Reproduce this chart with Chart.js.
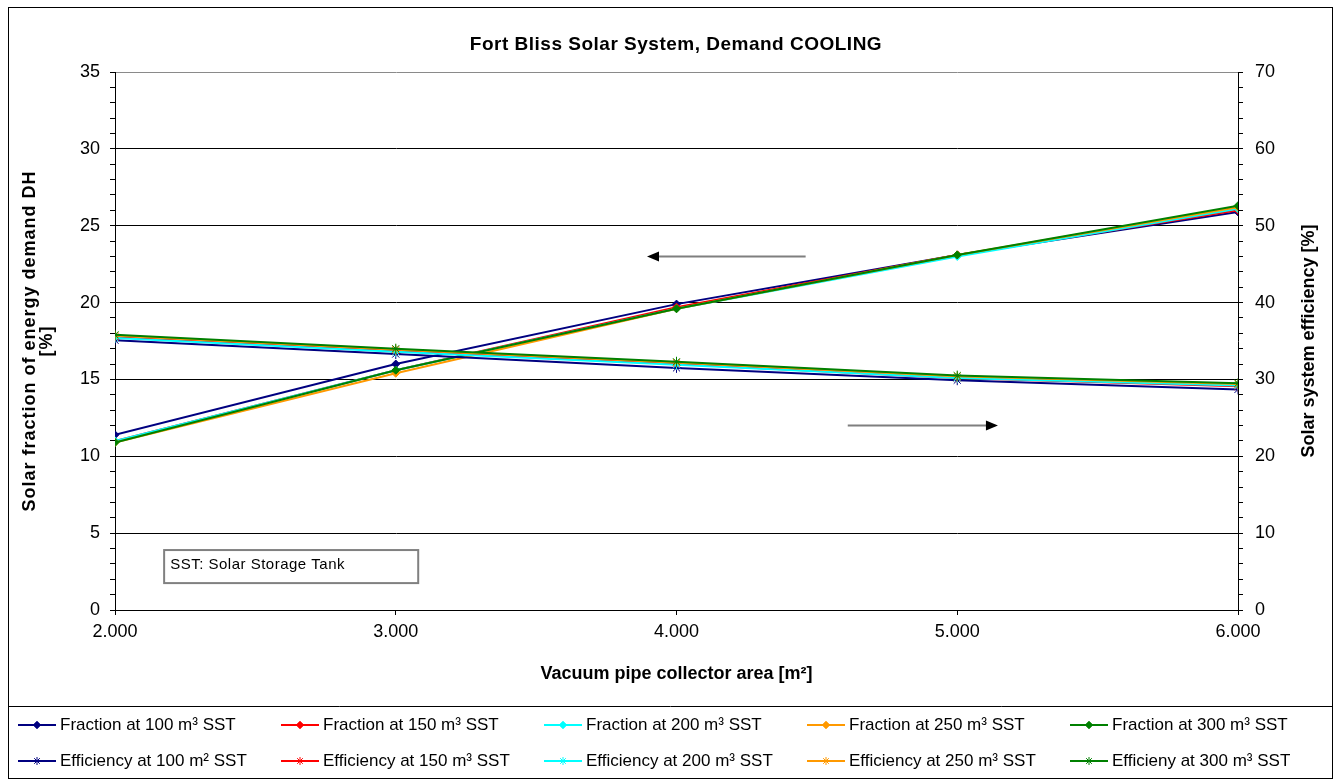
<!DOCTYPE html>
<html><head><meta charset="utf-8">
<script src="https://cdn.jsdelivr.net/npm/chart.js@4.4.1/dist/chart.umd.min.js"></script>
<style>html,body{margin:0;padding:0;background:#fff;}#wrap{position:relative;width:1336px;height:779px;}</style>
</head><body><div id="wrap"><canvas id="c" width="1336" height="779"></canvas></div>
<script>
// ---- data ----
const collectorAreas = [2000, 3000, 4000, 5000, 6000];
const fraction100 = [11.4, 16.0, 19.9, 23.1, 25.9];
const fraction150 = [11.0, 15.6, 19.7, 23.1, 26.0];
const fraction200 = [11.0, 15.6, 19.6, 23.0, 26.1];
const fraction250 = [10.9, 15.4, 19.6, 23.1, 26.2];
const fraction300 = [10.9, 15.6, 19.6, 23.1, 26.3];
const efficiency100 = [35.1, 33.3, 31.5, 29.9, 28.7];
const efficiency150 = [35.5, 33.7, 32.0, 30.2, 29.1];
const efficiency200 = [35.4, 33.6, 31.9, 30.2, 29.2];
const efficiency250 = [35.7, 33.9, 32.2, 30.4, 29.4];
const efficiency300 = [35.8, 34.0, 32.3, 30.5, 29.5];
const fractionLabels = ['Fraction at 100 m³ SST','Fraction at 150 m³ SST','Fraction at 200 m³ SST','Fraction at 250 m³ SST','Fraction at 300 m³ SST'];
const efficiencyLabels = ['Efficiency at 100 m² SST','Efficiency at 150 m³ SST','Efficiency at 200 m³ SST','Efficiency at 250 m³ SST','Efficieny at 300 m³ SST'];
const chartTitle = 'Fort Bliss Solar System, Demand COOLING';
const leftAxisTitle = ['Solar fraction of energy demand DH', '[%]'];
const rightAxisTitle = 'Solar system efficiency [%]';
const xAxisTitle = 'Vacuum pipe collector area [m²]';
const noteText = 'SST: Solar Storage Tank';

// ---- styling ----
const colors = ['#000080', '#FF0000', '#00FFFF', '#FF9900', '#008000'];
const FONT = '"Liberation Sans", Arial, sans-serif';

const fractionSeries = [fraction100, fraction150, fraction200, fraction250, fraction300];
const efficiencySeries = [efficiency100, efficiency150, efficiency200, efficiency250, efficiency300];

const toPoints = arr => arr.map((v, i) => ({x: collectorAreas[i], y: v}));
const datasets = [];
fractionSeries.forEach((s, i) => datasets.push({
  label: fractionLabels[i], data: toPoints(s), yAxisID: 'y',
  borderColor: colors[i], backgroundColor: colors[i], borderWidth: 2,
  pointStyle: 'rectRot', pointRadius: 4, pointBorderWidth: 1,
  pointBackgroundColor: colors[i], pointBorderColor: colors[i],
  order: 9 - i, tension: 0
}));
efficiencySeries.forEach((s, i) => datasets.push({
  label: efficiencyLabels[i], data: toPoints(s), yAxisID: 'y2',
  borderColor: colors[i], backgroundColor: colors[i], borderWidth: 2,
  pointStyle: 'star', pointRadius: 5, pointBorderWidth: 1,
  pointBackgroundColor: colors[i], pointBorderColor: colors[i],
  order: 4 - i, tension: 0
}));

function drawArrow(ctx, x1, y, x2) {
  const dir = Math.sign(x2 - x1);
  ctx.save();
  ctx.strokeStyle = '#7f7f7f'; ctx.lineWidth = 2;
  ctx.beginPath(); ctx.moveTo(x1, y); ctx.lineTo(x2 - dir * 10, y); ctx.stroke();
  ctx.fillStyle = '#000';
  ctx.beginPath(); ctx.moveTo(x2, y); ctx.lineTo(x2 - dir * 12, y - 5); ctx.lineTo(x2 - dir * 12, y + 5); ctx.closePath(); ctx.fill();
  ctx.restore();
}

const decor = {
  id: 'decor',
  afterDraw(chart) {
    const {ctx, scales} = chart;
    const xs = scales.x, yl = scales.y;
    const midY = (chart.chartArea.top + chart.chartArea.bottom) / 2;
    ctx.save();
    // outer frames
    ctx.strokeStyle = '#000'; ctx.lineWidth = 1;
    ctx.strokeRect(8.5, 7.5, 1324, 771);
    ctx.beginPath(); ctx.moveTo(8, 706.5); ctx.lineTo(1333, 706.5); ctx.stroke();
    // title
    ctx.fillStyle = '#000';
    ctx.font = 'bold 19px ' + FONT; ctx.textAlign = 'center'; ctx.textBaseline = 'middle';
    ctx.letterSpacing = '0.5px';
    ctx.fillText(chartTitle, 676, 45);
    ctx.letterSpacing = '0px';
    // x title
    ctx.font = 'bold 18px ' + FONT;
    ctx.fillText(xAxisTitle, (chart.chartArea.left + chart.chartArea.right) / 2, 674);
    // right title
    ctx.save();
    ctx.translate(1309, midY);
    ctx.rotate(-Math.PI / 2);
    ctx.fillText(rightAxisTitle, 0, 0);
    ctx.restore();
    // left title
    ctx.save();
    ctx.letterSpacing = '1px';
    ctx.translate(30, midY);
    ctx.rotate(-Math.PI / 2);
    ctx.fillText(leftAxisTitle[0], 0, 0);
    ctx.fillText(leftAxisTitle[1], 0, 17);
    ctx.restore();
    ctx.letterSpacing = '0px';
    // arrows (anchored in data units)
    drawArrow(ctx, xs.getPixelForValue(4460), yl.getPixelForValue(23.0), xs.getPixelForValue(3895));
    drawArrow(ctx, xs.getPixelForValue(4610), yl.getPixelForValue(12.0), xs.getPixelForValue(5145));
    // note box
    const bx = xs.getPixelForValue(2175), by = yl.getPixelForValue(3.9);
    const bx2 = xs.getPixelForValue(3080), by2 = yl.getPixelForValue(1.75);
    ctx.strokeStyle = '#808080'; ctx.lineWidth = 2;
    ctx.strokeRect(bx, by, bx2 - bx, by2 - by);
    ctx.fillStyle = '#000'; ctx.font = '15px ' + FONT; ctx.textAlign = 'left';
    ctx.letterSpacing = '0.5px';
    ctx.fillText(noteText, bx + 6, by + 15);
    ctx.letterSpacing = '0px';
    // legend
    ctx.font = '17px ' + FONT; ctx.textBaseline = 'middle';
    const colX = [18, 281, 544, 807, 1070];
    const rowY = [725, 761];
    chart.data.datasets.forEach((ds, i) => {
      const row = i < 5 ? 0 : 1, col = i % 5;
      const x = colX[col], y = rowY[row];
      ctx.strokeStyle = ds.borderColor; ctx.lineWidth = 2;
      ctx.beginPath(); ctx.moveTo(x, y); ctx.lineTo(x + 38, y); ctx.stroke();
      ctx.lineWidth = 1;
      ctx.fillStyle = ds.borderColor;
      ctx.strokeStyle = ds.borderColor;
      Chart.helpers.drawPoint(ctx, {pointStyle: ds.pointStyle, radius: ds.pointStyle === 'star' ? 4 : 3.5, borderWidth: 1, rotation: 0}, x + 19, y);
      if (ds.pointStyle === 'rectRot') {
        ctx.beginPath(); ctx.moveTo(x + 19, y - 4); ctx.lineTo(x + 23, y); ctx.lineTo(x + 19, y + 4); ctx.lineTo(x + 15, y); ctx.closePath(); ctx.fill();
      }
      ctx.fillStyle = '#000';
      ctx.fillText(ds.label, x + 42, y);
    });
    ctx.restore();
  }
};

new Chart(document.getElementById('c'), {
  type: 'line',
  data: {datasets},
  options: {
    responsive: false, animation: false, devicePixelRatio: 1,
    layout: {padding: {top: 72, left: 0, right: 0, bottom: 0}},
    plugins: {legend: {display: false}, title: {display: false}, tooltip: {enabled: false}},
    scales: {
      x: {
        type: 'linear', min: 2000, max: 6000,
        afterFit: s => { s.height = 169; },
        border: {display: true, color: '#000', width: 1},
        grid: {drawOnChartArea: false, drawTicks: true, tickLength: 5, color: '#000', tickColor: '#000'},
        ticks: {stepSize: 1000, color: '#000', padding: 6, font: {family: FONT, size: 18},
          maxRotation: 0, autoSkip: false,
          callback: v => (v / 1000).toFixed(0) + '.000'}
      },
      y: {
        position: 'left', min: 0, max: 35,
        afterFit: s => { s.width = 115; },
        border: {display: true, color: '#000', width: 1},
        grid: {drawTicks: true, tickLength: 5, tickColor: '#000',
          color: c => (c.tick && c.tick.value === 35) ? '#8a8a8a' : (c.tick && c.tick.value % 5 === 0 && c.tick.value > 0 ? '#000' : 'rgba(0,0,0,0)')},
        ticks: {stepSize: 1, autoSkip: false, color: '#000', padding: 10, font: {family: FONT, size: 18},
          callback: v => (v % 5 === 0 ? String(v) : '')}
      },
      y2: {
        position: 'right', min: 0, max: 70,
        afterFit: s => { s.width = 98; },
        border: {display: true, color: '#000', width: 1},
        grid: {drawOnChartArea: false, drawTicks: true, tickLength: 5, color: '#000', tickColor: '#000'},
        ticks: {stepSize: 2, autoSkip: false, color: '#000', padding: 12, font: {family: FONT, size: 18},
          callback: v => (v % 10 === 0 ? String(v) : '')}
      }
    }
  },
  plugins: [decor]
});
</script></body></html>
